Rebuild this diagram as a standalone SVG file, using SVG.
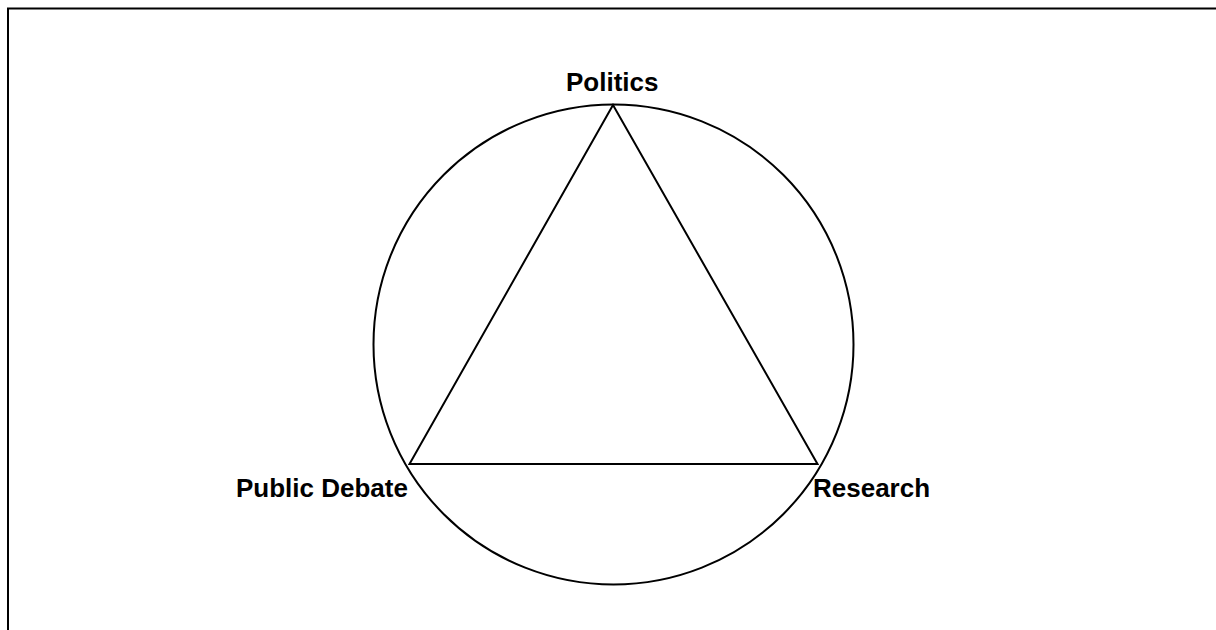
<svg xmlns="http://www.w3.org/2000/svg" width="1216" height="630" viewBox="0 0 1216 630">
<style>
.shape{fill:none;stroke:#000;stroke-width:2}
.lbl{font-family:"Liberation Sans",Arial,sans-serif;font-weight:bold;font-size:26px;fill:#000}
</style>
<rect x="0" y="0" width="1216" height="630" fill="#fff"/>
<rect x="8" y="8.5" width="1230" height="660" fill="none" stroke="#000" stroke-width="2"/>
<g id="connectors">
<circle class="shape" cx="613.5" cy="344.5" r="240"/>
<polygon class="shape" points="613,105 409.5,464 817.5,464"/>
</g>
<g id="politics"><text class="lbl" x="566" y="91">Politics</text></g>
<g id="public-debate"><text class="lbl" x="236" y="497">Public Debate</text></g>
<g id="research"><text class="lbl" x="813" y="497">Research</text></g>
</svg>
